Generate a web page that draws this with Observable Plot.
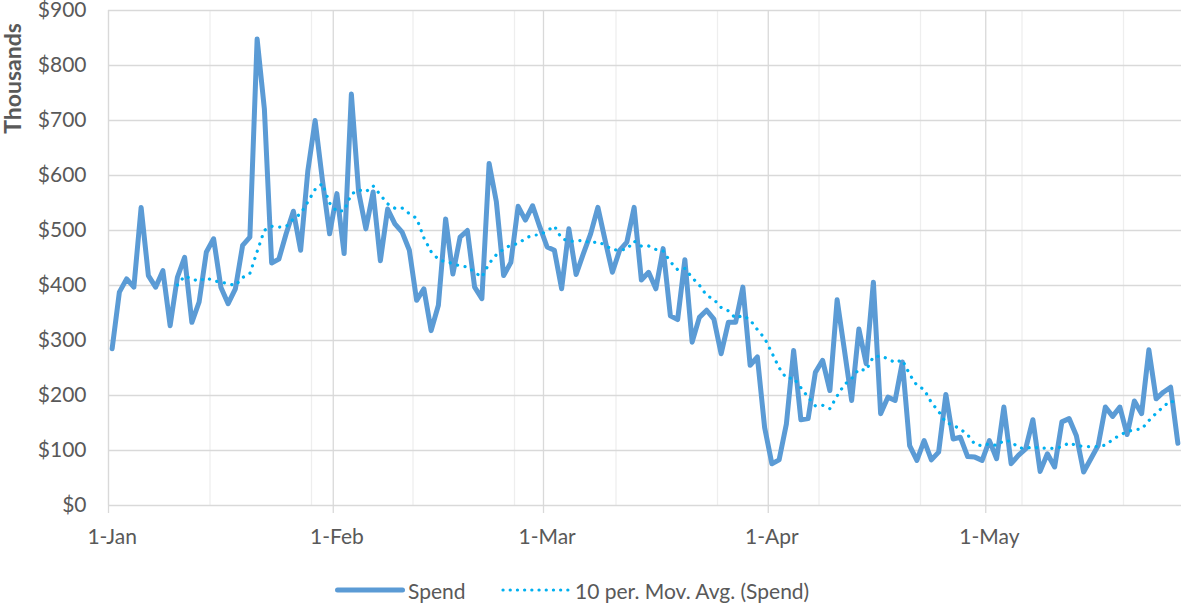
<!DOCTYPE html>
<html>
<head>
<meta charset="utf-8">
<script src="https://cdn.jsdelivr.net/npm/d3@7"></script>
<script src="https://cdn.jsdelivr.net/npm/@observablehq/plot@0.6"></script>
<style>
  body { margin: 0; background: #fff; font-family: Lato, "Open Sans", sans-serif; }
  #chart { width: 1184px; height: 555px; }
  #legend { position: relative; width: 1184px; height: 48px; font-size: 21px; color: #595959; }
  #legend .it { position: absolute; top: 22px; height: 26px; display: flex; align-items: center; white-space: nowrap; }
  #legend svg { display: block; }
</style>
</head>
<body>
<div id="chart"></div>
<div id="legend">
  <div class="it" style="left:335px"><svg width="70" height="10"><line x1="2.5" y1="5" x2="67.5" y2="5" stroke="#5B9BD5" stroke-width="5" stroke-linecap="round"/></svg></div>
  <div class="it" style="left:408px">Spend</div>
  <div class="it" style="left:501px"><svg width="70" height="10"><line x1="2" y1="5" x2="67" y2="5" stroke="#00B0F0" stroke-width="3.2" stroke-linecap="round" stroke-dasharray="0.1 7.1"/></svg></div>
  <div class="it" style="left:575px">10 per. Mov. Avg. (Spend)</div>
</div>
<script>
// ---- Data ----
const startDate = "2020-01-01";
const spendJan = [285,388,412,397,542,418,397,427,327,415,451,333,370,461,485,397,367,394,473,488,848,721,441,448,494,535,464,609,700,592,494];
const spendFeb = [567,458,748,570,503,570,445,539,512,497,464,373,394,318,364,521,421,488,500,397,376,622,552,418,442,544,519,545,506];
const spendMar = [470,464,394,503,420,458,494,542,482,424,464,479,542,410,424,394,467,345,338,447,297,342,355,339,276,333,333,397,255,270,142];
const spendApr = [76,83,148,282,156,158,242,264,209,374,283,191,321,258,406,167,197,191,261,109,82,118,83,97,202,121,124,89,88,82];
const spendMay = [118,85,179,76,91,103,156,62,94,70,152,158,127,61,85,109,179,162,179,129,190,167,283,194,206,215,113];
const monthLabels = ["1-Jan", "1-Feb", "1-Mar", "1-Apr", "1-May"];
const yTicks = [0, 100, 200, 300, 400, 500, 600, 700, 800, 900];
const maPeriod = 10;
const minorGridDays = 14;

// ---- Build ----
const spend = [...spendJan, ...spendFeb, ...spendMar, ...spendApr, ...spendMay];
const t0 = new Date(startDate + "T00:00:00Z");
const xEnd = d3.utcDay.offset(t0, spend.length);
const data = spend.map((v, i) => ({ date: d3.utcHour.offset(d3.utcDay.offset(t0, i), 12), value: v }));
const monthStarts = d3.utcMonth.range(t0, xEnd);
const monthMids = monthStarts.map(d => d3.utcHour.offset(d, 12));
const minorDates = d3.range(0, spend.length, minorGridDays).map(i => d3.utcDay.offset(t0, i));

const chart = Plot.plot({
  width: 1184,
  height: 555,
  marginLeft: 108,
  marginRight: 3,
  marginTop: 10,
  marginBottom: 50,
  style: { fontFamily: "Lato, 'Open Sans', sans-serif", fontSize: "21px", color: "#595959", background: "#fff", overflow: "visible" },
  x: { type: "utc", domain: [t0, xEnd] },
  y: { domain: [0, 900] },
  marks: [
    Plot.ruleX(minorDates, { y1: 0, y2: 900, stroke: "#eeeeee", strokeWidth: 1.3 }),
    Plot.ruleY(yTicks, { stroke: "#d9d9d9", strokeWidth: 1.3 }),
    Plot.ruleX(monthStarts, { y1: 0, y2: 900, stroke: "#d9d9d9", strokeWidth: 1.3 }),
    Plot.axisX(monthStarts, { tickSize: 8, tickFormat: () => "", stroke: "#d9d9d9", strokeWidth: 1.3, label: null }),
    Plot.axisX(monthMids, {
      tickSize: 0, tickPadding: 24,
      tickFormat: d => monthLabels[d3.utcMonth.count(t0, d)],
      fill: "#595959", fontSize: 21, label: null
    }),
    Plot.axisY(yTicks, {
      tickSize: 0, tickPadding: 22,
      tickFormat: d => "$" + d,
      fill: "#595959", fontSize: 21, label: null
    }),
    Plot.text(["Thousands"], {
      frameAnchor: "top-left", dx: -95, dy: 68, rotate: -90,
      textAnchor: "middle", lineAnchor: "middle",
      fontWeight: "bold", fontSize: 23, fill: "#595959"
    }),
    Plot.line(data, {
      x: "date", y: "value", stroke: "#5B9BD5", strokeWidth: 5,
      strokeLinejoin: "round", strokeLinecap: "round"
    }),
    Plot.line(data, Plot.windowY(
      { k: maPeriod, anchor: "end", reduce: "mean", strict: true },
      { x: "date", y: "value", stroke: "#00B0F0", strokeWidth: 3.2, strokeLinecap: "round", strokeDasharray: "0.1 7.6" }
    ))
  ]
});
document.getElementById("chart").appendChild(chart);
</script>
</body>
</html>
